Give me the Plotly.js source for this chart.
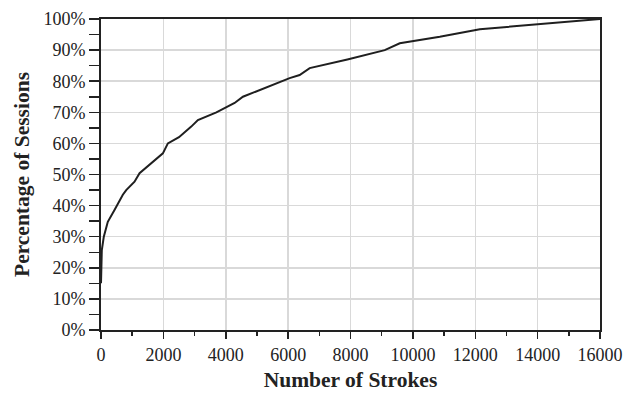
<!DOCTYPE html>
<html><head><meta charset="utf-8">
<script src="https://cdn.plot.ly/plotly-3.0.1.min.js"></script>
<style>html,body{margin:0;padding:0;background:#fff}</style>
</head><body>
<div id="chart" style="width:636px;height:393px"></div>
<script>
const strokes = [0, 10, 26, 90, 218, 433, 594, 700, 808, 1075, 1236, 1600, 1984, 2144, 2500, 2894, 3107, 3700, 4284, 4551, 5300, 6049, 6370, 6691, 7900, 9098, 9580, 10863, 12147, 14000, 16000];
const sessionPct = [15, 20, 25.7, 30, 34.8, 38.6, 41.8, 43.5, 45, 47.7, 50.4, 53.5, 56.8, 60, 62, 65.4, 67.5, 70, 73, 75, 78, 81, 82, 84.2, 87, 90, 92.2, 94.3, 96.7, 98.3, 100];
const xTitle = "Number of Strokes";
const yTitle = "Percentage of Sessions";

const font = {family: "Liberation Serif, Times New Roman, serif", color: "#222"};
Plotly.newPlot("chart", [{
  x: strokes, y: sessionPct, type: "scatter", mode: "lines",
  line: {color: "#1f1f1f", width: 2}, hoverinfo: "skip"
}], {
  width: 636, height: 393,
  margin: {l: 101, r: 36, t: 19, b: 63},
  paper_bgcolor: "#fff", plot_bgcolor: "#fff",
  showlegend: false,
  font: Object.assign({size: 18}, font),
  xaxis: {
    range: [0, 16000], dtick: 2000, tick0: 0,
    tickformat: "d",
    ticks: "outside", ticklen: 7, tickwidth: 1.5, tickcolor: "#222",
    showline: true, linecolor: "#222", linewidth: 2, mirror: true,
    showgrid: true, gridcolor: "#d9d9d9", gridwidth: 1.5,
    zeroline: false,
    tickfont: Object.assign({size: 18}, font),
    minor: {dtick: 1000, ticks: "outside", ticklen: 4, tickwidth: 1.5, tickcolor: "#222", showgrid: false},
    title: {text: "<b>" + xTitle + "</b>", font: Object.assign({size: 21.5}, font), standoff: 8}
  },
  yaxis: {
    range: [0, 100], dtick: 10, tick0: 0, ticksuffix: "%",
    ticks: "outside", ticklen: 10, tickwidth: 1.5, tickcolor: "#222",
    showline: true, linecolor: "#222", linewidth: 2, mirror: true,
    showgrid: true, gridcolor: "#d9d9d9", gridwidth: 1.5,
    zeroline: false,
    tickfont: Object.assign({size: 18}, font),
    minor: {dtick: 5, ticks: "outside", ticklen: 10, tickwidth: 1.5, tickcolor: "#222", showgrid: false},
    title: {text: "<b>" + yTitle + "</b>", font: Object.assign({size: 21.5}, font), standoff: 8}
  }
}, {staticPlot: true, displayModeBar: false});
</script>
</body></html>
